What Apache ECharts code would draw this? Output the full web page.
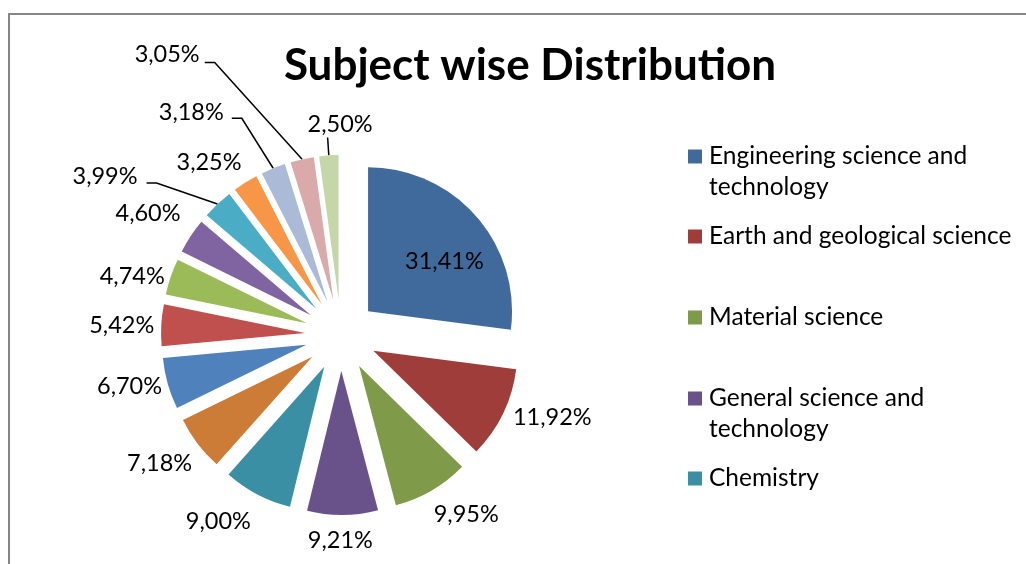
<!DOCTYPE html>
<html>
<head>
<meta charset="utf-8">
<script src="https://cdn.jsdelivr.net/npm/echarts@6/dist/echarts.min.js"></script>
<style>html,body{margin:0;padding:0;background:#fff}#c{width:1026px;height:564px}</style>
</head>
<body>
<div id="c"></div>
<script>
const titleText = 'Subject wise Distribution';
const categories = ['Engineering science and technology', 'Earth and geological science', 'Material science', 'General science and technology', 'Chemistry', 'Subject 6', 'Subject 7', 'Subject 8', 'Subject 9', 'Subject 10', 'Subject 11', 'Subject 12', 'Subject 13', 'Subject 14', 'Subject 15'];
const values = [31.41, 11.92, 9.95, 9.21, 9.00, 7.18, 6.70, 5.42, 4.74, 4.60, 3.99, 3.25, 3.18, 3.05, 2.50];
const colors = ['#416A9C', '#9E3D3A', '#7F9A48', '#69518A', '#3B8FA5', '#CD7C38', '#4F81BD', '#C0504D', '#9BBB59', '#8064A2', '#4BACC6', '#F79646', '#AABAD7', '#D9AAA9', '#C5D6A8'];
const legendNames = categories.slice(0, 5);
const legendLabels = ['Engineering science and\ntechnology', 'Earth and geological science', 'Material science', 'General science and\ntechnology', 'Chemistry'];
const legendTops = [110, 221, 302, 352, 463];

// label placement tweaks: [lineLength, lineLength2, distanceToLine, showLine, raiseText, elbow]
const labelPlacement = [
  null,
  [10, 0, 1, false, 0, 0],
  [28, -13, 1, false, 0, 0],
  [25, -36, 1, false, 0, 0],
  [31, -9, 1, false, 0, 0],
  [32, -21, 1, false, 0, 0],
  [10, -5, 1, false, 0, 0],
  [5, 1, 1, false, 0, 0],
  [2, 3, 1, false, 0, 0],
  [42, -26, 1, false, 0, 0],
  [29, 51, 9, true, 7, 10],
  [24, -10, 1, false, 0, 0],
  [54, 21, 8, true, 6, 10],
  [99, 76, 5, true, 8, 10],
  [18, 0, -45, true, 13, 0]
];

const FONT = 'Lato';
const chart = echarts.init(document.getElementById('c'), null, {renderer: 'canvas'});

const fmt = v => v.toFixed(2).replace('.', ',') + '%';

const data = values.map((v, i) => {
  const item = {
    name: categories[i], value: v, selected: true,
    itemStyle: {color: colors[i]}
  };
  const p = labelPlacement[i];
  if (!p) {
    item.label = {position: 'inside', padding: [0, 0, 0, 40]};
  } else {
    item.labelLine = {show: p[3], length: p[0], length2: p[1]};
    item.label = {distanceToLabelLine: p[2]};
    if (p[4]) {
      item.label.lineHeight = p[4] * 2;
      item.label.formatter = q => fmt(q.value) + '\n';
    }
  }
  return item;
});

const legends = legendNames.map((n, i) => {
  const two = legendLabels[i].indexOf('\n') >= 0;
  return {
    data: [n],
    orient: 'vertical',
    left: 688,
    top: legendTops[i],
    padding: 0,
    itemWidth: 14,
    itemHeight: 14,
    icon: 'rect',
    selectedMode: false,
    formatter: () => (two ? '\n' : '') + legendLabels[i],
    textStyle: {fontFamily: FONT, fontSize: 24.5, color: '#000', lineHeight: 31, padding: [0, 0, 0, 2]}
  };
});

chart.setOption({
  animation: false,
  title: {
    text: titleText, left: 525, top: 39, textAlign: 'center',
    textStyle: {fontFamily: FONT, fontWeight: 'bold', fontSize: 44, color: '#000'}
  },
  legend: legends,
  graphic: [{
    type: 'rect', shape: {x: 9, y: 14, width: 1100, height: 700},
    style: {fill: 'none', stroke: '#868686', lineWidth: 2}, silent: true
  }],
  series: [{
    type: 'pie',
    center: [341, 335],
    radius: [0, 144],
    startAngle: 90,
    clockwise: true,
    selectedMode: 'multiple',
    selectedOffset: 36,
    avoidLabelOverlap: false,
    emphasis: {disabled: true},
    itemStyle: {borderWidth: 0},
    label: {
      show: true, position: 'outside', fontFamily: FONT, fontSize: 23.5, color: '#000',
      formatter: p => fmt(p.value)
    },
    labelLine: {show: false, length: 8, length2: 2, minTurnAngle: 0, lineStyle: {color: '#000', width: 1.5}},
    labelLayout: params => {
      const p = labelPlacement[params.dataIndex];
      const pts = params.labelLinePoints;
      if (p && p[5] && pts && pts.length === 3) {
        // move the elbow of the leader line next to the label (Excel style)
        const s = Math.sign(pts[1][0] - pts[2][0]) || 1;
        return {
          hideOverlap: false,
          labelLinePoints: [pts[0].slice(), [pts[2][0] + s * p[5], pts[2][1]], pts[2].slice()]
        };
      }
      return {hideOverlap: false};
    },
    data: data
  }]
});
</script>
</body>
</html>
